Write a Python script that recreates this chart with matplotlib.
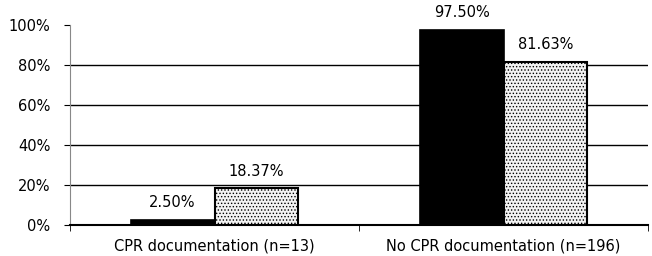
import matplotlib
matplotlib.use("Agg")
import matplotlib.pyplot as plt
import numpy as np

categories = ["CPR documentation (n=13)", "No CPR documentation (n=196)"]
series_a = [2.50, 97.50]
series_b = [18.37, 81.63]
yticks = [0, 20, 40, 60, 80, 100]

plt.rcParams['font.family'] = ['DejaVu Sans']
plt.rcParams['hatch.color'] = '#9a9a9a'
plt.rcParams['hatch.linewidth'] = 0.6

fig = plt.figure(figsize=(6.52, 2.56), dpi=100)
ax = fig.add_axes([70/652, 31/256, 578/652, 200/256])

fs = 10.5
x = np.arange(len(categories))
w = 0.29
ax.bar(x - w/2, series_a, w, color='black', edgecolor='black', linewidth=1.2, zorder=3)
ax.bar(x + w/2, series_b, w, color='#f2f2f2', edgecolor='black', linewidth=1.5,
       hatch='.....', zorder=3)

for xi, v in zip(x - w/2, series_a):
    ax.annotate(f"{v:.2f}%", (xi, v), xytext=(0, 7), textcoords='offset points',
                ha='center', va='bottom', fontsize=fs)
for xi, v in zip(x + w/2, series_b):
    ax.annotate(f"{v:.2f}%", (xi, v), xytext=(0, 7), textcoords='offset points',
                ha='center', va='bottom', fontsize=fs)

ax.set_xlim(-0.5, 1.5)
ax.set_ylim(0, 100)
ax.set_yticks(yticks)
ax.set_yticklabels([f"{t}%" for t in yticks], fontsize=fs)
for t in [20, 40, 60, 80]:
    ax.axhline(t, color='black', linewidth=1.0, zorder=1)

ax.set_xticks(x)
ax.set_xticklabels(categories, fontsize=fs)
ax.tick_params(axis='x', length=0, pad=10)
ax.set_xticks([-0.5, 0.5, 1.5], minor=True)
ax.tick_params(axis='x', which='minor', length=4, direction='out')
ax.tick_params(axis='y', length=4, direction='out', pad=10)

for s in ['top', 'right']:
    ax.spines[s].set_visible(False)
ax.spines['left'].set_color('#888888')
ax.spines['left'].set_linewidth(0.8)
ax.spines['bottom'].set_linewidth(1.5)

fig.savefig("out.png", dpi=100)
